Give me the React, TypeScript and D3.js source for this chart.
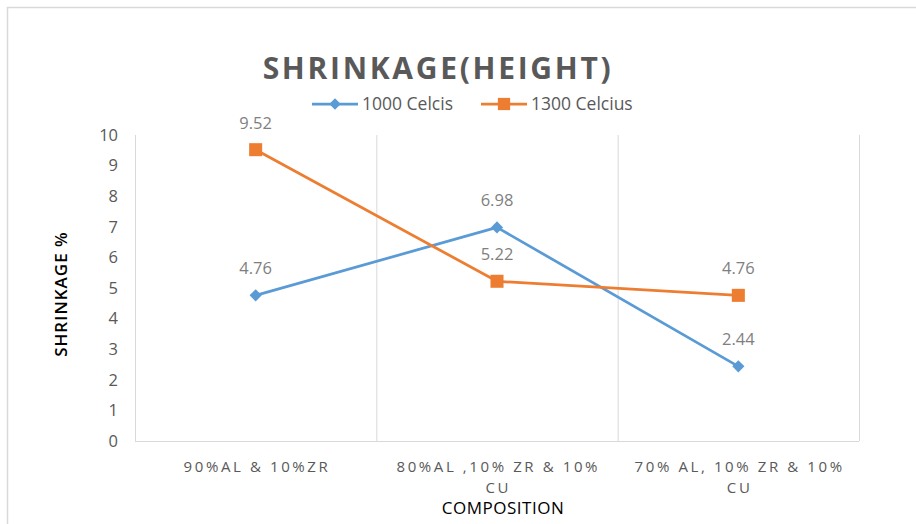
import * as d3 from 'd3';
import React, { useRef, useEffect } from 'react';

const categories = ['90%AL & 10%ZR', '80%AL ,10% ZR & 10% CU', '70% AL, 10% ZR & 10% CU'];
const categoryLines = [['90%AL & 10%ZR'], ['80%AL ,10% ZR & 10%', 'CU'], ['70% AL, 10% ZR & 10%', 'CU']];
const series1000 = [4.76, 6.98, 2.44];
const series1300 = [9.52, 5.22, 4.76];
const seriesNames = ['1000 Celcis', '1300 Celcius'];
const yTicks = [0, 1, 2, 3, 4, 5, 6, 7, 8, 9, 10];

const W = 916;
const H = 524;
const margin = { top: 135, right: 57, bottom: 83, left: 135 };
const font = '"Open Sans", "Liberation Sans", sans-serif';

function App() {
  const ref = useRef(null);

  useEffect(() => {
    const svg = d3.select(ref.current);
    svg.selectAll('*').remove();

    const innerW = W - margin.left - margin.right;
    const innerH = H - margin.top - margin.bottom;

    // outer chart border
    svg.append('rect')
      .attr('x', 7.5).attr('y', 7.5)
      .attr('width', W).attr('height', H)
      .attr('fill', 'white')
      .attr('stroke', '#d9d9d9').attr('stroke-width', 1.5);

    const x = d3.scaleBand().domain(categories).range([0, innerW]);
    const y = d3.scaleLinear().domain([0, 10]).range([innerH, 0]);

    const chart = svg.append('g')
      .attr('transform', `translate(${margin.left}, ${margin.top})`);

    // vertical gridlines at category boundaries
    const bounds = categories.map((c) => x(c)).concat([innerW]);
    chart.selectAll('.vgrid')
      .data(bounds)
      .enter()
      .append('line')
      .attr('x1', (d) => d + 0.5).attr('x2', (d) => d + 0.5)
      .attr('y1', 0).attr('y2', innerH)
      .attr('stroke', '#d9d9d9').attr('stroke-width', 1);

    chart.append('line')
      .attr('x1', 0).attr('x2', innerW)
      .attr('y1', innerH + 0.5).attr('y2', innerH + 0.5)
      .attr('stroke', '#d9d9d9').attr('stroke-width', 1);

    // y tick labels
    chart.selectAll('.ytick')
      .data(yTicks)
      .enter()
      .append('text')
      .attr('x', -17)
      .attr('y', (d) => y(d))
      .attr('dy', '0.35em')
      .attr('text-anchor', 'end')
      .attr('font-family', font)
      .attr('font-size', 16.5)
      .attr('fill', '#595959')
      .text((d) => d);

    // x tick labels
    categoryLines.forEach((lines, i) => {
      const t = chart.append('text')
        .attr('text-anchor', 'middle')
        .attr('font-family', font)
        .attr('font-size', 15)
        .attr('letter-spacing', 2.6)
        .attr('fill', '#595959');
      lines.forEach((l, j) => {
        t.append('tspan')
          .attr('x', x(categories[i]) + x.bandwidth() / 2 + 1.3)
          .attr('y', innerH + 31 + j * 21)
          .text(l);
      });
    });

    const cx = (i) => x(categories[i]) + x.bandwidth() / 2;
    const line = d3.line().x((d, i) => cx(i)).y((d) => y(d));

    const drawSeries = (vals, color, shape) => {
      chart.append('path')
        .datum(vals)
        .attr('d', line)
        .attr('fill', 'none')
        .attr('stroke', color)
        .attr('stroke-width', 2.75)
        .attr('stroke-linejoin', 'round');
      chart.selectAll(null)
        .data(vals)
        .enter()
        .append('path')
        .attr('d', d3.symbol().type(shape === 'diamond' ? d3.symbolDiamond2 : d3.symbolSquare).size(shape === 'diamond' ? 95 : 170))
        .attr('transform', (d, i) => `translate(${cx(i)}, ${y(d)})`)
        .attr('fill', color);
      chart.selectAll(null)
        .data(vals)
        .enter()
        .append('text')
        .attr('x', (d, i) => cx(i))
        .attr('y', (d) => y(d) - 21)
        .attr('text-anchor', 'middle')
        .attr('font-family', font)
        .attr('font-size', 16.5)
        .attr('fill', '#7f7f7f')
        .text((d) => d.toFixed(2));
    };

    drawSeries(series1000, '#5b9bd5', 'diamond');
    drawSeries(series1300, '#ed7d31', 'square');

    // title
    svg.append('text')
      .attr('x', 438).attr('y', 79)
      .attr('text-anchor', 'middle')
      .attr('font-family', font)
      .attr('font-size', 30)
      .attr('font-weight', 'bold')
      .attr('letter-spacing', 2.7)
      .attr('fill', '#595959')
      .text('SHRINKAGE(HEIGHT)');

    // legend
    const legend = [
      { name: seriesNames[0], color: '#5b9bd5', shape: d3.symbolDiamond2, size: 85, x: 312 },
      { name: seriesNames[1], color: '#ed7d31', shape: d3.symbolSquare, size: 150, x: 481 },
    ];
    legend.forEach((l) => {
      const g = svg.append('g').attr('transform', `translate(${l.x}, 104)`);
      g.append('line').attr('x1', 0).attr('x2', 46).attr('y1', 0).attr('y2', 0)
        .attr('stroke', l.color).attr('stroke-width', 2.75);
      g.append('path').attr('d', d3.symbol().type(l.shape).size(l.size))
        .attr('transform', 'translate(23,0)').attr('fill', l.color);
      g.append('text').attr('x', 50).attr('y', 0).attr('dy', '0.35em')
        .attr('font-family', font).attr('font-size', 17.5).attr('fill', '#595959')
        .text(l.name);
    });

    // axis titles
    svg.append('text')
      .attr('transform', 'translate(67, 294) rotate(-90)')
      .attr('text-anchor', 'middle')
      .attr('font-family', font)
      .attr('font-size', 17)
      .attr('font-weight', 600)
      .attr('letter-spacing', 1)
      .attr('fill', '#000')
      .text('SHRINKAGE %');

    svg.append('text')
      .attr('x', 503).attr('y', 514)
      .attr('text-anchor', 'middle')
      .attr('font-family', font)
      .attr('font-size', 17)
      .attr('letter-spacing', 0.5)
      .attr('fill', '#000')
      .text('COMPOSITION');
  }, []);

  return (
    <div style={{ position: 'absolute', left: 0, top: 0 }}>
      <svg ref={ref} width={W} height={H} style={{ display: 'block' }}></svg>
    </div>
  );
}

export default App;
